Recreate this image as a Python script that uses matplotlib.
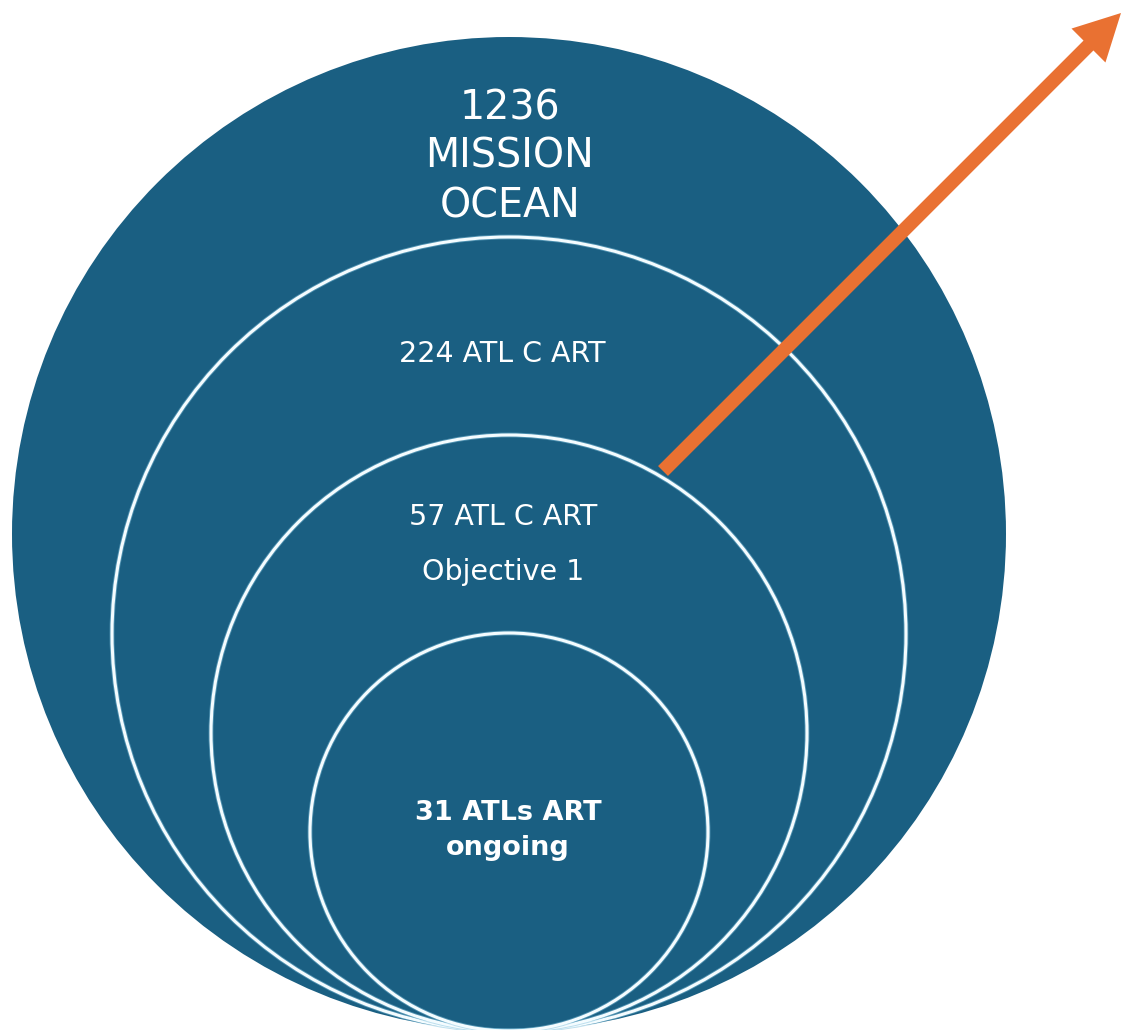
import matplotlib.pyplot as plt
from matplotlib.patches import Circle, FancyArrow

# nested circles, outermost first
labels = ["1236\nMISSION\nOCEAN", "224 ATL C ART", "57 ATL C ART\nObjective 1", "31 ATLs ART\nongoing"]
radii = [497, 397, 298, 199]
bold = [False, False, False, True]

W, H = 1122, 1030
BLUE = "#1a5f82"
ORANGE = "#e97132"
FONT = ["DejaVu Sans"]

fig = plt.figure(figsize=(W / 100, H / 100), dpi=100)
ax = fig.add_axes([0, 0, 1, 1])
ax.set_xlim(0, W)
ax.set_ylim(H, 0)
ax.set_aspect("equal")
ax.axis("off")

cx, bottom = 509, 1031

for i, r in enumerate(radii):
    cy = bottom - r
    if i == 0:
        ax.add_patch(Circle((cx, cy), r, facecolor=BLUE, edgecolor="none"))
    else:
        # soft light-blue halo under a thin white ring
        ax.add_patch(Circle((cx, cy), r, facecolor="none", edgecolor="#7fc0dc", lw=3.5, alpha=0.5))
        ax.add_patch(Circle((cx, cy), r, facecolor="none", edgecolor="#f4fcff", lw=2.2))

# text baselines and sizes per ring
line_y = [[120, 168, 217], [362], [525, 580], [820, 855]]
line_x = [510, 502, 503, 508]
sizes = [28.5, 20.5, 20.5, 19.5]
for lab, ys, x, fs, b in zip(labels, line_y, line_x, sizes, bold):
    for line, y in zip(lab.split("\n"), ys):
        ax.text(x, y, line, ha="center", va="baseline", color="white", fontsize=fs,
                family=FONT, fontweight="bold" if b else "normal")

start = (663, 471)
tip = (1121, 13)
ax.add_patch(FancyArrow(start[0], start[1], tip[0] - start[0], tip[1] - start[1],
                        width=14, head_width=48, head_length=46,
                        length_includes_head=True, color=ORANGE, lw=0))

fig.savefig("out.png", dpi=100)
